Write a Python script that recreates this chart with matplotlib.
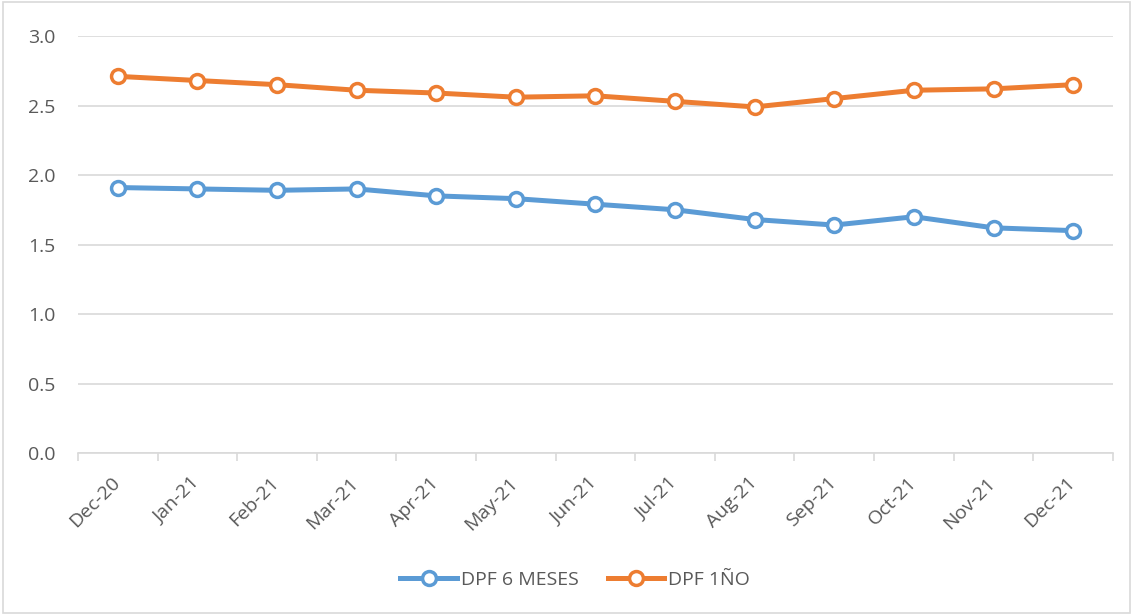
import matplotlib.pyplot as plt
from matplotlib.patches import Rectangle
from matplotlib.transforms import ScaledTranslation

months = ["Dec-20", "Jan-21", "Feb-21", "Mar-21", "Apr-21", "May-21", "Jun-21",
          "Jul-21", "Aug-21", "Sep-21", "Oct-21", "Nov-21", "Dec-21"]
dpf_6m = [1.91, 1.90, 1.89, 1.90, 1.85, 1.83, 1.79, 1.75, 1.68, 1.64, 1.70, 1.62, 1.60]
dpf_1y = [2.71, 2.68, 2.65, 2.61, 2.59, 2.56, 2.57, 2.53, 2.49, 2.55, 2.61, 2.62, 2.65]

plt.rcParams['font.family'] = ['Open Sans', 'DejaVu Sans']
txt = "#595959"
fs = 14

fig = plt.figure(figsize=(11.33, 6.15), dpi=100)
ax = fig.add_axes([0.0688, 0.2634, 0.9135, 0.678])

x = range(len(months))
ax.plot(x, dpf_6m, color="#5B9BD5", lw=3.6, marker="o", ms=10, mfc="white",
        mec="#5B9BD5", mew=2.5, label="DPF 6 MESES", zorder=3)
ax.plot(x, dpf_1y, color="#ED7D31", lw=3.6, marker="o", ms=10, mfc="white",
        mec="#ED7D31", mew=2.5, label="DPF 1ÑO", zorder=3)

ax.set_xlim(-0.5, len(months) - 0.5)
ax.set_ylim(0, 3.0)
ax.set_yticks([0, 0.5, 1.0, 1.5, 2.0, 2.5, 3.0])
ax.set_yticklabels([f"{v:.1f}" for v in ax.get_yticks()], color=txt, fontsize=fs)
ax.yaxis.grid(True, color="#D9D9D9", lw=1.2)
ax.set_axisbelow(True)
ax.tick_params(axis="y", length=0, pad=16)

ax.set_xticks(list(x))
ax.set_xticklabels(months, rotation=45, ha="right", rotation_mode="anchor",
                   color=txt, fontsize=fs)
ax.set_xticks([i - 0.5 for i in range(len(months) + 1)], minor=True)
ax.tick_params(axis="x", which="major", length=0, pad=15)
ax.tick_params(axis="x", which="minor", length=6, color="#D9D9D9", width=1.2)
shift = ScaledTranslation(-5 / 72, 0, fig.dpi_scale_trans)
for lab in ax.get_xticklabels():
    lab.set_transform(lab.get_transform() + shift)

for s in ["top", "right", "left"]:
    ax.spines[s].set_visible(False)
ax.spines["bottom"].set_color("#D9D9D9")
ax.spines["bottom"].set_linewidth(1.2)

fig.legend(loc="center", bbox_to_anchor=(0.5075, 0.057), ncol=2, frameon=False,
           fontsize=fs, labelcolor=txt, handlelength=2.9, columnspacing=1.5,
           handletextpad=0.2)

fig.patches.append(Rectangle((0.003, 0.003), 0.994, 0.994, transform=fig.transFigure,
                             fill=False, edgecolor="#D9D9D9", lw=1.2))

fig.savefig("out.png", dpi=100, facecolor="white")
